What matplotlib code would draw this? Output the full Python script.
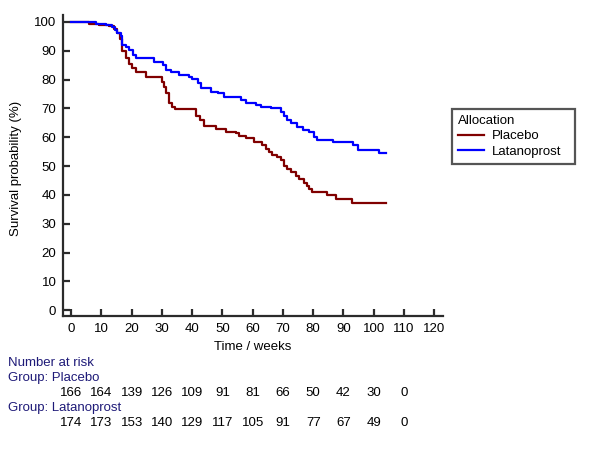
import matplotlib
matplotlib.use("Agg")
import matplotlib.pyplot as plt
from matplotlib.lines import Line2D
import matplotlib.transforms as mtransforms

plt.rcParams['font.family'] = ['Liberation Sans', 'DejaVu Sans']

# ---- data ----
placebo_t = [0, 6.0, 9.3, 12.6, 14.2, 15.2, 16.2, 16.9, 18.2, 19.2, 20.2, 21.5, 24.8,
             30.1, 30.7, 31.4, 32.4, 33.4, 34.4, 41.3, 42.6, 44.0, 47.9, 51.2, 54.5,
             55.5, 57.9, 60.5, 63.1, 64.5, 65.5, 66.4, 68.1, 69.4, 70.4, 71.4, 72.7,
             74.4, 75.4, 77.0, 78.0, 78.7, 79.7, 84.6, 87.6, 92.9, 104.1]
placebo_s = [100, 99.3, 99.0, 98.6, 97.5, 96, 94, 90, 87.5, 85.5, 84, 82.5, 81,
             79, 77.5, 75.5, 72, 70.5, 69.7, 67.5, 66, 63.8, 63, 61.8, 61.3,
             60.5, 59.7, 58.5, 57.3, 56, 55, 54, 53, 52, 50, 49, 48,
             46.5, 45.5, 44, 43, 42.2, 41, 40, 38.5, 37.2, 37.2]

latano_t = [0, 8.3, 11.5, 13.6, 14.5, 15.3, 16.4, 16.8, 18.1, 19.2, 20.3, 21.4, 27.4,
            30.2, 31.3, 33.0, 35.7, 39.0, 40.1, 41.8, 42.9, 46.3, 48.4, 50.6, 56.1,
            57.7, 61.0, 62.7, 66.0, 69.5, 70.5, 71.3, 72.6, 74.8, 76.5, 78.7, 80.3,
            81.4, 86.4, 93.0, 94.7, 101.8, 104.0]
latano_s = [100, 99.3, 98.9, 98.4, 97.2, 96, 95, 92, 91.4, 90.3, 88.5, 87.4, 86.2,
            85.1, 83.3, 82.7, 81.6, 81.0, 80.1, 78.7, 77.0, 75.8, 75.2, 74.1, 72.9,
            72.0, 71.2, 70.6, 70.0, 68.8, 67.5, 66.0, 64.8, 63.7, 62.5, 61.9, 60.2,
            59.0, 58.4, 57.3, 55.6, 54.4, 54.4]

groups = ["Placebo", "Latanoprost"]
risk_times = [0, 10, 20, 30, 40, 50, 60, 70, 80, 90, 100, 110]
risk_placebo = [166, 164, 139, 126, 109, 91, 81, 66, 50, 42, 30, 0]
risk_latano = [174, 173, 153, 140, 129, 117, 105, 91, 77, 67, 49, 0]

xticks = list(range(0, 121, 10))
yticks = list(range(0, 101, 10))

c_placebo = "#800000"
c_latano = "#0000ff"
c_text = "#1e1a78"
c_axis = "#2b2b2b"
fs = 9.5

fig = plt.figure(figsize=(6, 4.5), dpi=100)
ax = fig.add_axes([63.3/600, 1-316/450, (443-63.3)/600, (316-15)/450])

ax.step(placebo_t, placebo_s, where='post', color=c_placebo, lw=1.6)
ax.step(latano_t, latano_s, where='post', color=c_latano, lw=1.6)

ax.set_xlim(-2.6, 122.9)
ax.set_ylim(-2.0, 102.4)
ax.set_xticks(xticks)
ax.set_yticks(yticks)
for s in ['top', 'right']:
    ax.spines[s].set_visible(False)
for s in ['left', 'bottom']:
    ax.spines[s].set_color(c_axis)
    ax.spines[s].set_linewidth(1.6)
ax.tick_params(direction='in', length=5, width=1.6, color=c_axis,
               labelsize=fs, pad=5)
ax.set_xlabel("Time / weeks", fontsize=fs, labelpad=4)
fig.text(16/600, 1-168/450, "Survival probability (%)", rotation=90,
         ha='center', va='center', fontsize=fs)

handles = [Line2D([], [], color=c_placebo, lw=1.6),
           Line2D([], [], color=c_latano, lw=1.6)]
leg = fig.legend(handles, groups, title="Allocation", loc='upper left',
                 bbox_to_anchor=(452/600, 1-163/450, 123/600, 54/450),
                 mode='expand', fontsize=fs,
                 title_fontsize=fs, frameon=True, fancybox=False,
                 alignment='left', handlelength=2.0, handletextpad=0.6,
                 borderpad=0.45, labelspacing=0.24, borderaxespad=0)
leg.get_frame().set_edgecolor(c_axis)
leg.get_frame().set_linewidth(1.6)

tr = mtransforms.blended_transform_factory(ax.transData, fig.transFigure)
fig.text(8/600, 1-363/450, "Number at risk", color=c_text, fontsize=fs, va='center')
fig.text(8/600, 1-378.5/450, "Group: " + groups[0], color=c_text, fontsize=fs, va='center')
fig.text(8/600, 1-408.5/450, "Group: " + groups[1], color=c_text, fontsize=fs, va='center')
for t, n in zip(risk_times, risk_placebo):
    ax.text(t, 1-393.5/450, str(n), transform=tr, ha='center', va='center',
            fontsize=fs, clip_on=False)
for t, n in zip(risk_times, risk_latano):
    ax.text(t, 1-423.5/450, str(n), transform=tr, ha='center', va='center',
            fontsize=fs, clip_on=False)

fig.savefig("out.png", dpi=100)
